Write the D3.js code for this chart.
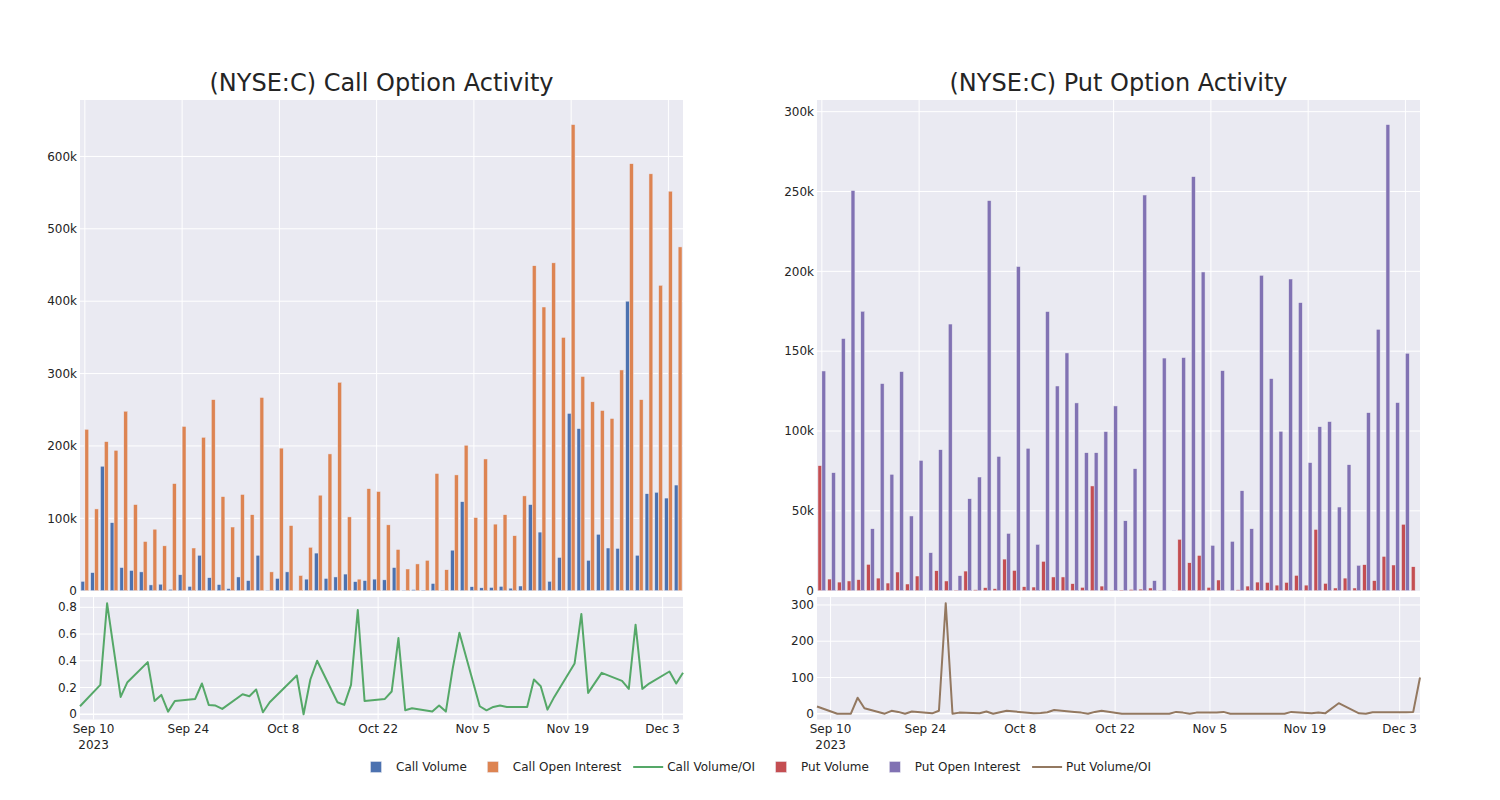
<!DOCTYPE html>
<html>
<head>
<meta charset="utf-8">
<script src="https://cdn.jsdelivr.net/npm/d3@7"></script>
<style>
  html, body { margin: 0; padding: 0; background: #fff; }
  svg { display: block; font-family: "DejaVu Sans", sans-serif; }
</style>
</head>
<body>
<svg id="chart" width="1500" height="800"></svg>
<script>
// ---------------- DATA ----------------
const dates = [
  "2023-09-08","2023-09-11","2023-09-12","2023-09-13","2023-09-14","2023-09-15",
  "2023-09-18","2023-09-19","2023-09-20","2023-09-21","2023-09-22",
  "2023-09-25","2023-09-26","2023-09-27","2023-09-28","2023-09-29",
  "2023-10-02","2023-10-03","2023-10-04","2023-10-05","2023-10-06",
  "2023-10-10","2023-10-11","2023-10-12","2023-10-13",
  "2023-10-16","2023-10-17","2023-10-18","2023-10-19","2023-10-20",
  "2023-10-23","2023-10-24","2023-10-25","2023-10-26","2023-10-27",
  "2023-10-30","2023-10-31","2023-11-01","2023-11-02","2023-11-03",
  "2023-11-06","2023-11-07","2023-11-08","2023-11-09","2023-11-10",
  "2023-11-13","2023-11-14","2023-11-15","2023-11-16","2023-11-17",
  "2023-11-20","2023-11-21","2023-11-22","2023-11-24",
  "2023-11-27","2023-11-28","2023-11-29","2023-11-30","2023-12-01",
  "2023-12-04","2023-12-05","2023-12-06"
];

const callVolume = [
  13000,25000,172000,94000,32000,28000,26000,8000,9000,2000,22000,
  6000,49000,18000,8500,3000,19000,14000,49000,400,17000,
  26000,0,16000,52000,17000,19000,23000,12500,14000,
  16000,15000,32000,500,1500,700,10000,500,56000,123000,
  5500,4000,4500,6000,3500,6500,119000,81000,13000,46000,
  245000,224000,42000,78000,59000,58500,400000,49000,134000,
  136000,128000,146000
];
const callOpenInterest = [
  223000,113000,206000,194000,248000,119000,68000,85000,62000,148000,227000,
  59000,212000,264000,130000,88000,133000,105000,267000,26000,197000,
  90000,21000,60000,132000,189000,288000,102000,16000,141000,
  137000,91000,57000,30000,37000,42000,162000,29000,160000,201000,
  101000,182000,92000,105000,76000,131000,449000,392000,453000,350000,
  644000,296000,261000,249000,238000,305000,590000,264000,576000,
  422000,552000,475000
];
const callVolOI = [
  0.06,0.22,0.83,0.48,0.13,0.24,0.39,0.10,0.145,0.02,0.10,
  0.115,0.23,0.07,0.065,0.04,0.15,0.135,0.185,0.015,0.09,
  0.29,0.0,0.26,0.40,0.09,0.07,0.22,0.78,0.10,
  0.115,0.17,0.57,0.03,0.045,0.02,0.065,0.02,0.34,0.61,
  0.06,0.03,0.055,0.065,0.055,0.055,0.26,0.21,0.035,0.13,
  0.38,0.75,0.16,0.31,0.25,0.19,0.67,0.19,0.23,
  0.32,0.23,0.31
];

const putVolume = [
  78300,7300,5400,6100,6900,16500,7900,4800,11700,4200,9200,
  0,12500,6100,300,12300,600,1900,1300,19800,12700,
  2500,2300,18400,8600,8600,4400,2100,65600,2900,
  200,400,800,1000,1700,200,0,32200,17500,22100,
  2100,6700,0,600,2900,5400,5200,3500,5200,9600,
  3500,38400,4600,1700,7900,1700,16300,6300,21500,
  16100,41600,15000
];
const putOpenInterest = [
  137600,73900,157900,250600,175000,38800,129700,72900,137200,46800,81600,
  23800,88300,167000,9400,57600,71200,244300,84100,35900,203000,
  89200,29000,174800,128200,148900,117600,86400,86400,99600,
  115700,43800,76400,247800,6300,145700,200,146000,259300,199600,
  28400,137800,30900,62600,38800,197500,132800,99800,195200,180400,
  80200,102700,105900,52400,78900,15900,111500,163700,291900,
  117800,148700,0
];
const putVolOI = [
  20,0,0,0,44,15,0,8,5,0,6,
  1,8,305,0,3,1,6,0,4,8,
  1,2,4,10,5,3,0,5,8,
  0,0,0,0,0,0,5,3,0,3,
  3,5,0,0,0,0,0,0,0,5,
  1,3,1,29,1,0,4,4,4,
  4,5,100
];

const xTickDates = ["2023-09-10","2023-09-24","2023-10-08","2023-10-22","2023-11-05","2023-11-19","2023-12-03"];
const xTickLabels = ["Sep 10","Sep 24","Oct 8","Oct 22","Nov 5","Nov 19","Dec 3"];
const callBarTicks = [0,100000,200000,300000,400000,500000,600000];
const putBarTicks = [0,50000,100000,150000,200000,250000,300000];
const callRatioTicks = [0,0.2,0.4,0.6,0.8];
const putRatioTicks = [0,100,200,300];

const legendLabels = ["Call Volume","Call Open Interest","Call Volume/OI","Put Volume","Put Open Interest","Put Volume/OI"];
const legendTypes = ["bar","bar","line","bar","bar","line"];

// ---------------- STYLE ----------------
const COLORS = {
  callVol: "rgb(76,114,176)", callOI: "rgb(221,132,82)", callRatio: "rgb(85,168,104)",
  putVol: "rgb(196,78,82)", putOI: "rgb(129,114,179)", putRatio: "rgb(147,120,96)"
};
const legendColors = [COLORS.callVol, COLORS.callOI, COLORS.callRatio, COLORS.putVol, COLORS.putOI, COLORS.putRatio];
const BG = "rgb(234,234,242)";
const TXT = "rgb(36,36,36)";

const svg = d3.select("#chart");
const parse = d3.utcParse("%Y-%m-%d");
const fmtK = v => v === 0 ? "0" : d3.format("~s")(v);
const fmtR = v => v === 0 ? "0" : d3.format("~g")(v);

function drawPanel(cfg) {
  const g = svg.append("g");
  const x0 = cfg.x0, x1 = cfg.x0 + 603;
  const topY0 = 100, topY1 = 590.7;
  const botY0 = 597, botY1 = 719.5;

  // ---- top bar subplot ----
  g.append("rect").attr("x", x0).attr("y", topY0).attr("width", x1 - x0).attr("height", topY1 - topY0).attr("fill", BG);

  const xBand = d3.scaleBand().domain(dates).range([x0, x1]).paddingInner(0.2).paddingOuter(0.1);
  const xSub = d3.scaleBand().domain([0, 1]).range([0, xBand.bandwidth()]);
  const yBar = d3.scaleLinear().domain([0, cfg.barMax]).range([topY1, topY0]);

  // vertical grid every 10 categories
  dates.forEach((d, i) => {
    if (i % 10 === 0) {
      const cx = xBand(d) + xBand.bandwidth() / 2;
      g.append("line").attr("x1", cx).attr("x2", cx).attr("y1", topY0).attr("y2", topY1)
        .attr("stroke", "#fff").attr("stroke-width", 1);
    }
  });
  cfg.barTicks.forEach(t => {
    const y = yBar(t);
    if (t > 0) g.append("line").attr("x1", x0).attr("x2", x1).attr("y1", y).attr("y2", y)
      .attr("stroke", "#fff").attr("stroke-width", 1);
    g.append("text").attr("x", x0 - 3).attr("y", y).attr("dy", "0.35em")
      .attr("text-anchor", "end").attr("font-size", 12).attr("fill", TXT).text(fmtK(t));
  });

  [[cfg.vol, cfg.volColor, 0], [cfg.oi, cfg.oiColor, 1]].forEach(([vals, color, k]) => {
    g.append("g").selectAll("rect").data(vals).join("rect")
      .attr("x", (v, i) => xBand(dates[i]) + xSub(k))
      .attr("width", xSub.bandwidth())
      .attr("y", v => yBar(v))
      .attr("height", v => topY1 - yBar(v))
      .attr("fill", color)
      .attr("stroke", BG).attr("stroke-width", 0.5);
  });

  // ---- bottom line subplot ----
  g.append("rect").attr("x", x0).attr("y", botY0).attr("width", x1 - x0).attr("height", botY1 - botY0).attr("fill", BG);
  const xTime = d3.scaleUtc().domain([parse(dates[0]), parse(dates[dates.length - 1])]).range([x0, x1]);
  const yLine = d3.scaleLinear().domain(cfg.lineDomain).range([botY1, botY0]);

  xTickDates.forEach((d, i) => {
    const x = xTime(parse(d));
    g.append("line").attr("x1", x).attr("x2", x).attr("y1", botY0).attr("y2", botY1)
      .attr("stroke", "#fff").attr("stroke-width", 1);
    g.append("text").attr("x", x).attr("y", 733).attr("text-anchor", "middle")
      .attr("font-size", 12).attr("fill", TXT).text(xTickLabels[i]);
    if (i === 0) g.append("text").attr("x", x).attr("y", 749).attr("text-anchor", "middle")
      .attr("font-size", 12).attr("fill", TXT).text("2023");
  });
  cfg.lineTicks.forEach(t => {
    const y = yLine(t);
    g.append("line").attr("x1", x0).attr("x2", x1).attr("y1", y).attr("y2", y)
      .attr("stroke", "#fff").attr("stroke-width", t === 0 ? 1.5 : 1);
    g.append("text").attr("x", x0 - 3).attr("y", y).attr("dy", "0.35em")
      .attr("text-anchor", "end").attr("font-size", 12).attr("fill", TXT).text(fmtR(t));
  });

  const line = d3.line().x((v, i) => xTime(parse(dates[i]))).y(v => yLine(v));
  g.append("path").datum(cfg.ratio).attr("d", line).attr("fill", "none")
    .attr("stroke", cfg.ratioColor).attr("stroke-width", 2).attr("stroke-linejoin", "round");

  // title
  g.append("text").attr("x", (x0 + x1) / 2).attr("y", 91).attr("text-anchor", "middle")
    .attr("font-size", 24).attr("fill", TXT).text(cfg.title);
}

drawPanel({
  x0: 80, title: "(NYSE:C) Call Option Activity",
  vol: callVolume, oi: callOpenInterest, ratio: callVolOI,
  volColor: COLORS.callVol, oiColor: COLORS.callOI, ratioColor: COLORS.callRatio,
  barMax: 678000, barTicks: callBarTicks,
  lineDomain: [-0.039, 0.877], lineTicks: callRatioTicks
});
drawPanel({
  x0: 817, title: "(NYSE:C) Put Option Activity",
  vol: putVolume, oi: putOpenInterest, ratio: putVolOI,
  volColor: COLORS.putVol, oiColor: COLORS.putOI, ratioColor: COLORS.putRatio,
  barMax: 307300, barTicks: putBarTicks,
  lineDomain: [-16, 322], lineTicks: putRatioTicks
});

// ---------------- LEGEND ----------------
const lg = svg.append("g");
let tx = 396;
const ly = 767;
legendLabels.forEach((lab, i) => {
  const t = lg.append("text").attr("x", tx).attr("y", ly).attr("dy", "0.35em")
    .attr("font-size", 12).attr("fill", TXT).text(lab);
  if (legendTypes[i] === "bar") {
    lg.append("rect").attr("x", tx - 25.5).attr("y", ly - 5.5).attr("width", 11).attr("height", 11)
      .attr("fill", legendColors[i]).attr("stroke", BG).attr("stroke-width", 0.5);
  } else {
    lg.append("line").attr("x1", tx - 34).attr("x2", tx - 4).attr("y1", ly).attr("y2", ly)
      .attr("stroke", legendColors[i]).attr("stroke-width", 2);
  }
  tx += t.node().getComputedTextLength() + 46;
});
</script>
</body>
</html>
